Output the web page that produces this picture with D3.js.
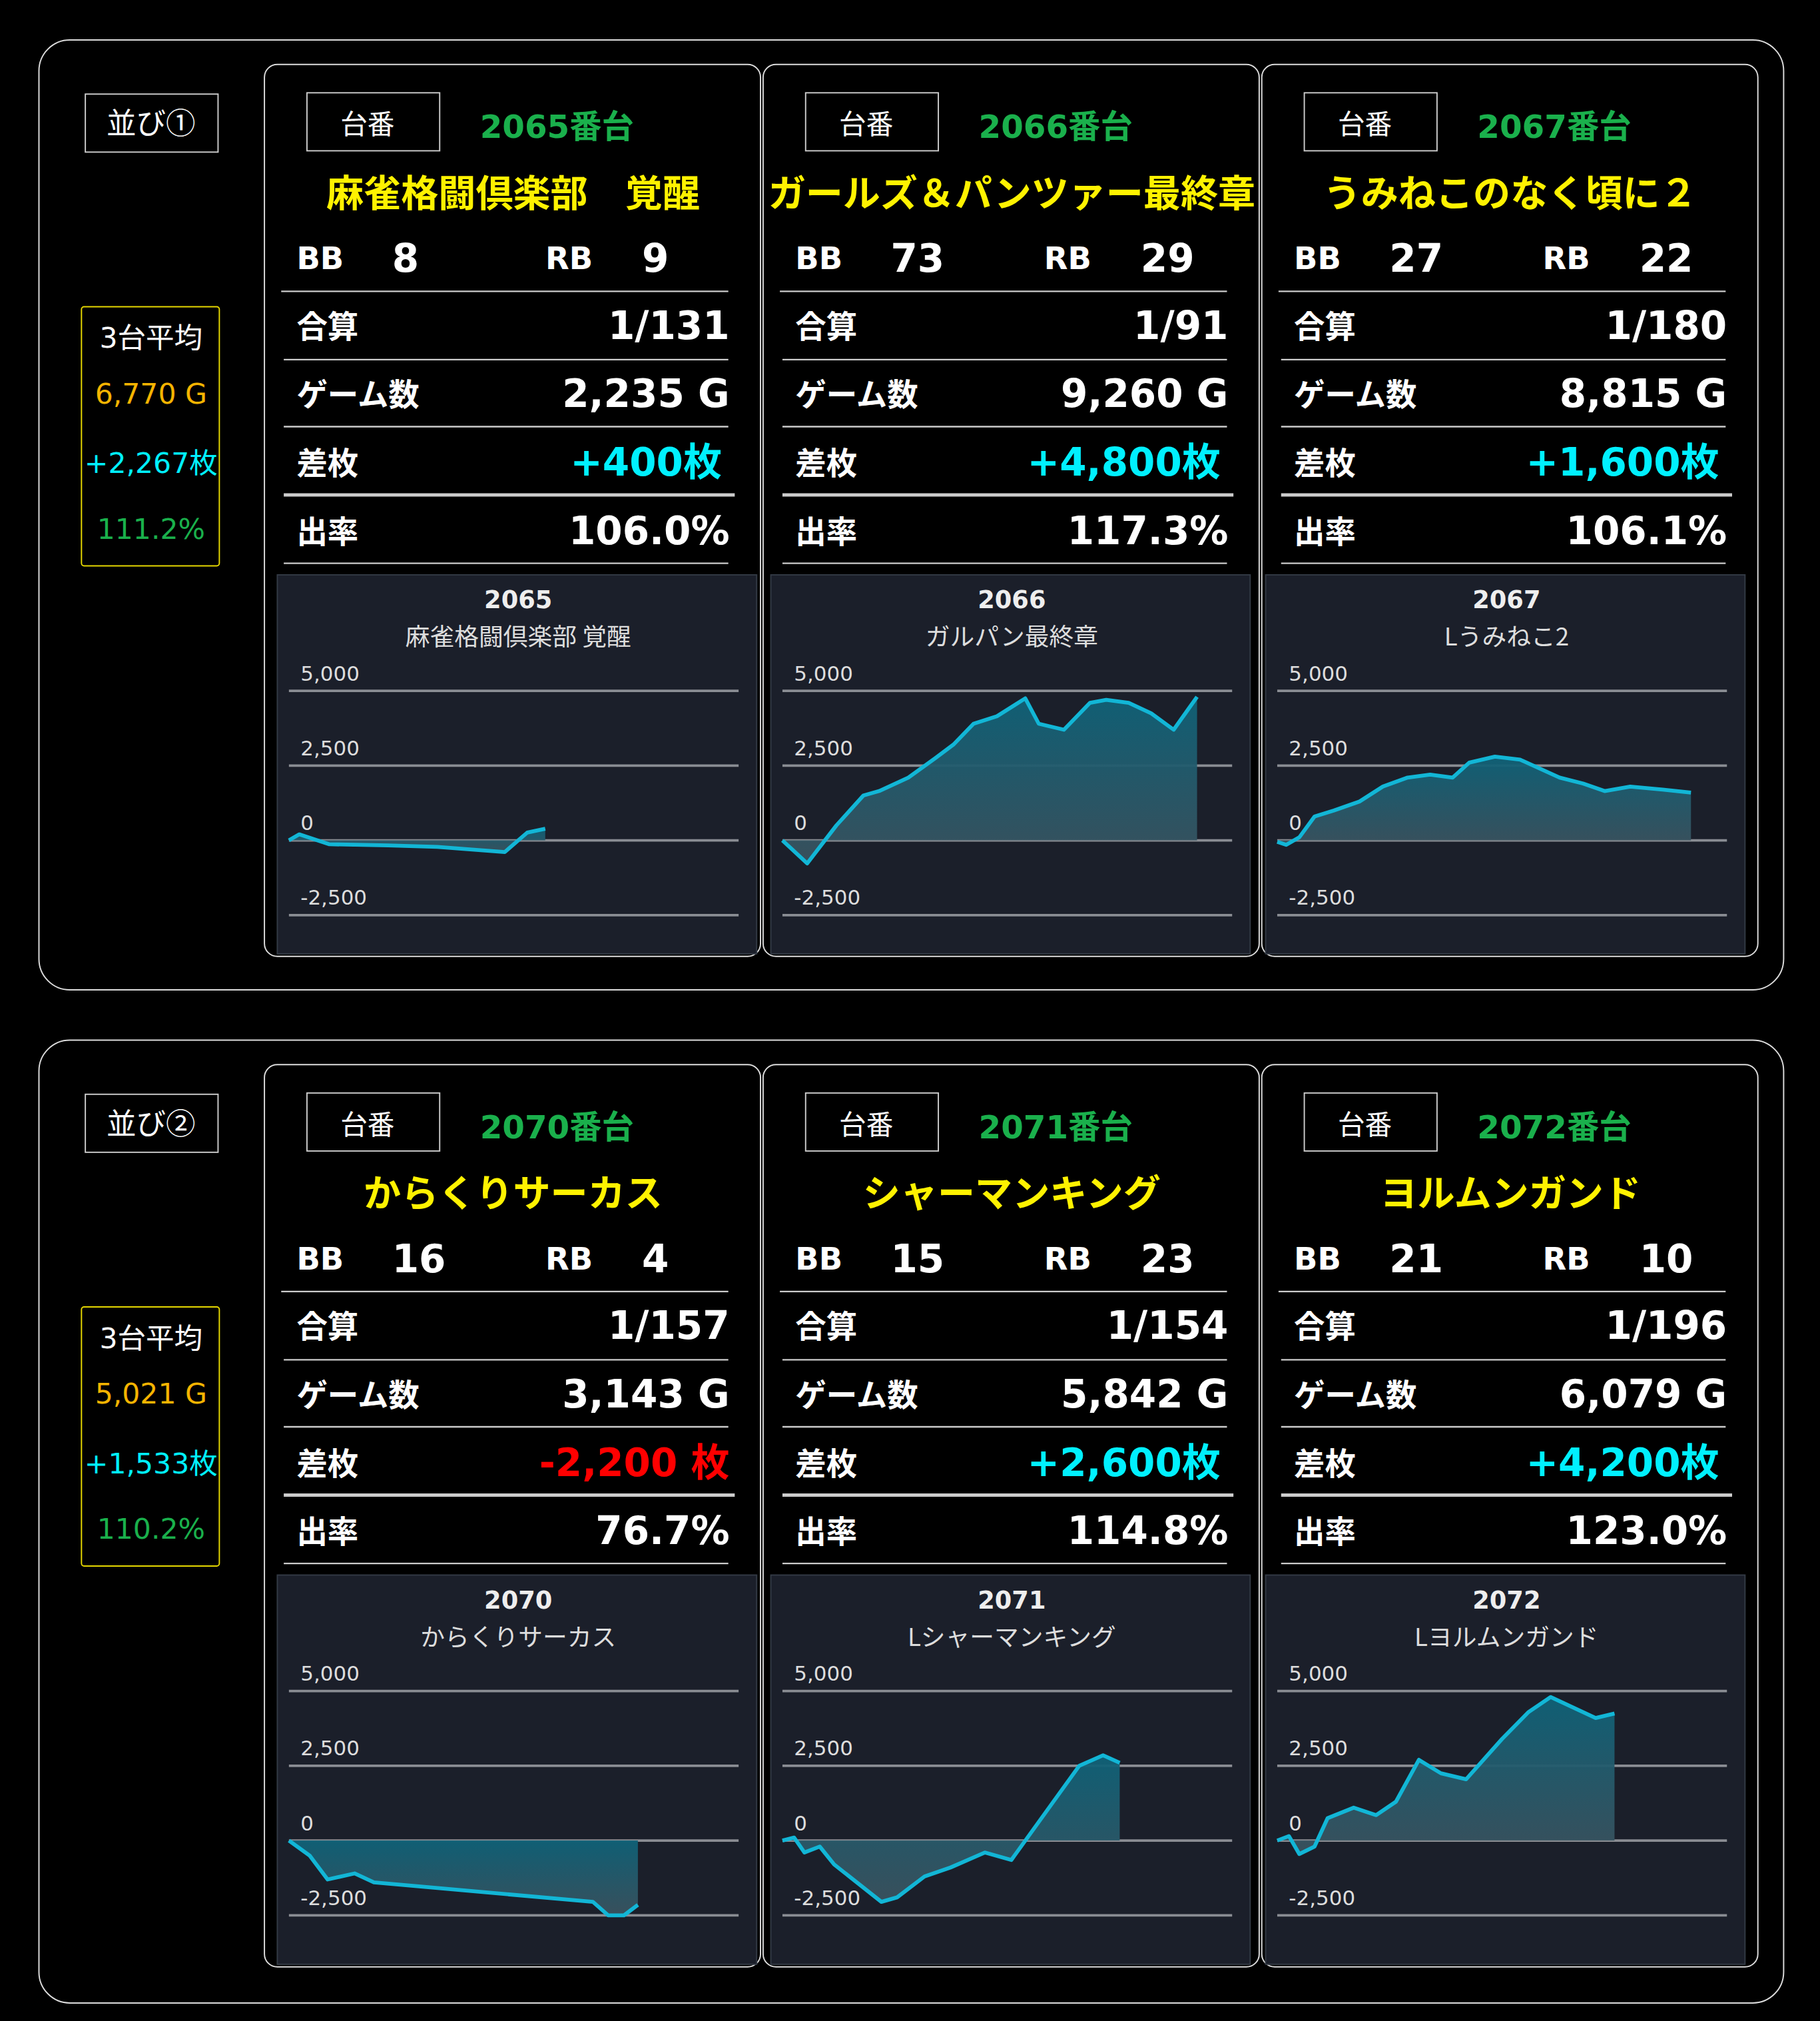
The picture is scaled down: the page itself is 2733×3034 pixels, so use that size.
<!DOCTYPE html>
<html><head><meta charset="utf-8">
<script src="https://cdn.jsdelivr.net/npm/d3@7"></script>
<style>body{margin:0;background:#000}svg{display:block}</style>
</head><body><div id="chart"></div>
<script>
// machine data, one entry per card
const groupLabels = ['並び①', '並び②'];
const avgGames = ['6,770 G', '5,021 G'];
const avgDiff = ['+2,267枚', '+1,533枚'];
const avgRate = ['111.2%', '110.2%'];

const machineNo = ['2065', '2066', '2067', '2070', '2071', '2072'];
const titles = ['麻雀格闘倶楽部　覚醒', 'ガールズ＆パンツァー最終章', 'うみねこのなく頃に２',
  'からくりサーカス', 'シャーマンキング', 'ヨルムンガンド'];
const subTitles = ['麻雀格闘倶楽部 覚醒', 'ガルパン最終章', 'Lうみねこ2', 'からくりサーカス', 'Lシャーマンキング', 'Lヨルムンガンド'];
const bb = [8, 73, 27, 16, 15, 21];
const rb = [9, 29, 22, 4, 23, 10];
const gassan = ['1/131', '1/91', '1/180', '1/157', '1/154', '1/196'];
const games = ['2,235 G', '9,260 G', '8,815 G', '3,143 G', '5,842 G', '6,079 G'];
const diff = [400, 4800, 1600, -2200, 2600, 4200];
const rate = ['106.0%', '117.3%', '106.1%', '76.7%', '114.8%', '123.0%'];

// graph series: [position (0-100 of width), coins]
const series = [
  [[0,0],[2.3,200],[9,-130],[22,-170],[33,-220],[48,-390],[53,260],[57,390]],
  [[0,0],[5.5,-770],[12,500],[18,1500],[21.5,1650],[28,2100],[34,2750],[38,3200],[42.5,3900],[47.7,4150],[54,4750],[57,3900],[62.6,3700],[68.4,4600],[72,4700],[77,4600],[82,4250],[87,3700],[92.2,4800]],
  [[0,-50],[2,-150],[4.9,100],[8.3,800],[12.6,1000],[18.3,1300],[23.5,1800],[29,2100],[34,2200],[39,2100],[42.7,2600],[48.4,2800],[54,2700],[62.8,2100],[68,1900],[72.8,1650],[78.5,1800],[85.7,1700],[92,1600]],
  [[0,0],[4.6,-500],[8.6,-1300],[14.6,-1100],[18.9,-1400],[67.6,-2050],[71,-2500],[74.5,-2500],[77.6,-2150]],
  [[0,0],[2.6,100],[4.9,-400],[8.3,-200],[11.5,-800],[22,-2050],[25.5,-1900],[31.6,-1200],[37.4,-900],[45,-400],[50.9,-650],[66,2500],[71.3,2850],[75,2600]],
  [[0,0],[2.6,150],[4.9,-450],[8.3,-200],[11.2,750],[17,1100],[22,850],[26.4,1300],[31.5,2700],[36.4,2250],[42,2050],[50,3400],[55.9,4300],[60.8,4800],[70.8,4100],[75,4250]]
];
const yTicks = [5000, 2500, 0, -2500];

const W = 1412, H = 1568;
const font = '"DejaVu Sans","Noto Sans CJK JP",sans-serif';
const jfont = '"Noto Sans CJK JP",sans-serif';

const svg = d3.select('#chart').append('svg')
  .attr('width', 2733).attr('height', 3034)
  .attr('viewBox', `0 0 ${W} ${H}`);

const defs = svg.append('defs');
const grad = defs.append('linearGradient').attr('id', 'fillg')
  .attr('x1', 0).attr('y1', 0).attr('x2', 0).attr('y2', 1);
grad.append('stop').attr('offset', '0%').attr('stop-color', '#0f6278');
grad.append('stop').attr('offset', '100%').attr('stop-color', '#3a525e');

svg.append('rect').attr('width', W).attr('height', H).attr('fill', '#000');

const fmt = v => d3.format(',')(v).replace('−', '-');
const cardX = [205, 592, 979];
const panelX = [10, 6, 3];
const groupH = [737, 747];
const cardH = [692, 700];

groupLabels.forEach((lab, gi) => {
  const oy = gi * 776;
  const g = svg.append('g').attr('transform', `translate(0,${oy})`);
  g.append('rect').attr('x', 30).attr('y', 31).attr('width', 1354).attr('height', groupH[gi])
    .attr('rx', 24).attr('fill', 'none').attr('stroke', '#ddd').attr('stroke-width', 1);

  g.append('rect').attr('x', 66).attr('y', 73).attr('width', 103).attr('height', 45)
    .attr('fill', 'none').attr('stroke', '#ccc');
  g.append('text').attr('x', 117).attr('y', 104).attr('text-anchor', 'middle')
    .attr('fill', '#fff').attr('font-family', jfont).attr('font-size', 23).text(lab);

  g.append('rect').attr('x', 63).attr('y', 238).attr('width', 107).attr('height', 201)
    .attr('rx', 2).attr('fill', 'none').attr('stroke', '#e6d800');
  [['3台平均', '#fff', 270], [avgGames[gi], '#f5b400', 313], [avgDiff[gi], '#00f0ff', 367], [avgRate[gi], '#1ab04c', 418]]
    .forEach(([t, c, y]) => g.append('text').attr('x', 117).attr('y', y).attr('text-anchor', 'middle')
      .attr('fill', c).attr('font-family', font).attr('font-size', 22).text(t));

  cardX.forEach((cx, ci) => {
    const i = gi * 3 + ci;
    const c = g.append('g').attr('transform', `translate(${cx},50)`);
    c.append('rect').attr('width', 385).attr('height', cardH[gi]).attr('rx', 10)
      .attr('fill', '#000').attr('stroke', '#ddd').attr('stroke-width', 1);

    c.append('rect').attr('x', 33).attr('y', 22).attr('width', 103).attr('height', 45)
      .attr('fill', 'none').attr('stroke', '#ccc');
    c.append('text').attr('x', 80).attr('y', 54).attr('text-anchor', 'middle')
      .attr('fill', '#fff').attr('font-family', jfont).attr('font-size', 21).text('台番');
    c.append('text').attr('x', 227).attr('y', 57).attr('text-anchor', 'middle')
      .attr('fill', '#1ab04c').attr('font-family', font).attr('font-weight', 'bold')
      .attr('font-size', 25).text(machineNo[i] + '番台');
    c.append('text').attr('x', 193).attr('y', 110).attr('text-anchor', 'middle')
      .attr('fill', '#fff200').attr('font-family', jfont).attr('font-weight', 'bold')
      .attr('font-size', 29).attr('textLength', titles[i].length > 12 ? 378 : null)
      .text(titles[i]);

    const bt = (x, y, t, size, anchor, col) => c.append('text').attr('x', x).attr('y', y)
      .attr('text-anchor', anchor || 'start').attr('fill', col || '#fff')
      .attr('font-family', font).attr('font-weight', 'bold').attr('font-size', size).text(t);
    bt(25, 159, 'BB', 24);
    bt(99, 161, bb[i], 30);
    bt(218, 159, 'RB', 24);
    bt(293, 161, rb[i], 30);

    [176, 229, 281, 334, 387].forEach((ly, k) => {
      c.append('line').attr('x1', k === 0 ? 13 : 15).attr('x2', k === 3 ? 365 : 360)
        .attr('y1', ly).attr('y2', ly).attr('stroke', '#ccc').attr('stroke-width', k === 3 ? 2.5 : 1.2);
    });
    const rows = [['合算', gassan[i], '#fff', 361], ['ゲーム数', games[i], '#fff', 361],
      ['差枚', (diff[i] > 0 ? '+' : '') + fmt(diff[i]) + (diff[i] < 0 ? ' 枚' : '枚'), diff[i] < 0 ? '#ff0000' : '#00f0ff', diff[i] < 0 ? 361 : 355],
      ['出率', rate[i], '#fff', 361]];
    rows.forEach((r, k) => {
      const y = 212 + k * 53;
      c.append('text').attr('x', 25).attr('y', y).attr('fill', '#fff').attr('font-family', jfont)
        .attr('font-weight', 'bold').attr('font-size', 24).text(r[0]);
      bt(r[3], y + 1, r[1], 30, 'end', r[2]);
    });

    // graph panel
    const p = c.append('g').attr('transform', `translate(${panelX[ci]},396)`);
    p.append('rect').attr('width', 372).attr('height', cardH[gi] - 398).attr('fill', '#1b1f2a').attr('stroke', '#333a45');
    p.append('text').attr('x', 187).attr('y', 26).attr('text-anchor', 'middle').attr('fill', '#eee')
      .attr('font-family', '"DejaVu Sans",sans-serif').attr('font-weight', 'bold').attr('font-size', 19).text(machineNo[i]);
    p.append('text').attr('x', 187).attr('y', 55).attr('text-anchor', 'middle').attr('fill', '#ddd')
      .attr('font-family', jfont).attr('font-size', 19).text(subTitles[i]);

    const x = d3.scaleLinear().domain([0, 100]).range([9, 358]);
    const y = d3.scaleLinear().domain([-2500, 5000]).range([264, 90]);
    yTicks.forEach(t => {
      p.append('line').attr('x1', 9).attr('x2', 358).attr('y1', y(t)).attr('y2', y(t))
        .attr('stroke', '#8a8d93').attr('stroke-width', 2);
      p.append('text').attr('x', 18).attr('y', y(t) - 8).attr('fill', '#ddd')
        .attr('font-family', '"DejaVu Sans",sans-serif').attr('font-size', 16).text(fmt(t));
    });
    const data = series[i];
    p.append('path').datum(data).attr('fill', 'url(#fillg)').attr('opacity', 0.95)
      .attr('d', d3.area().x(d => x(d[0])).y0(y(0)).y1(d => y(d[1])));
    p.append('path').datum(data).attr('fill', 'none').attr('stroke', '#12b6d6').attr('stroke-width', 3)
      .attr('stroke-linejoin', 'round')
      .attr('d', d3.line().x(d => x(d[0])).y(d => y(d[1])));
  });
});
</script></body></html>
